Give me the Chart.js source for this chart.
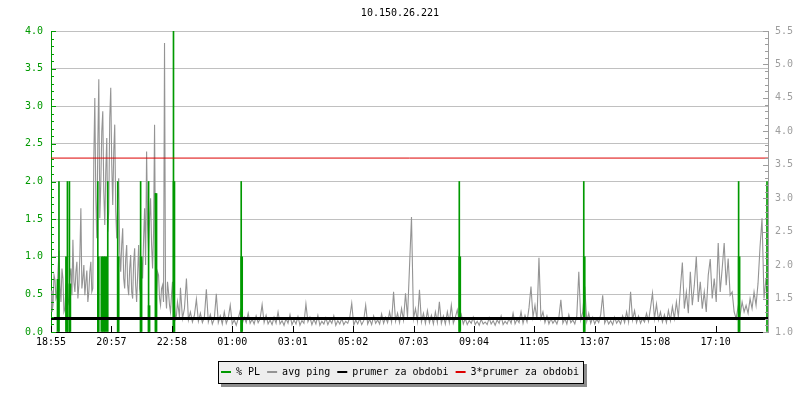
<!DOCTYPE html>
<html><head><meta charset="utf-8">
<script src="https://cdn.jsdelivr.net/npm/chart.js@4/dist/chart.umd.min.js"></script>
<style>html,body{margin:0;padding:0;background:#fff}#wrap{width:800px;height:400px}</style>
</head><body><div id="wrap"><canvas id="c" width="800" height="400"></canvas></div>
<script>
const chartTitle = '10.150.26.221';
const xTickLabels = ['18:55','20:57','22:58','01:00','03:01','05:02','07:03','09:04','11:05','13:07','15:08','17:10'];
const tickStepMinutes = 121.35;
const rangeMinutes = 1440;
// avg ping, first part sampled every 2 minutes (minutes 0..258)
const busyStepMinutes = 2;
const avgPingBusy = [
1.62,1.30,1.40,1.85,1.78,1.50,1.55,1.90,2.22,1.70,
1.45,1.95,1.80,1.30,1.35,1.70,1.75,1.40,1.50,1.85,
1.95,1.55,2.38,1.75,1.60,1.90,2.05,1.50,1.70,2.15,
2.85,1.65,1.80,2.00,1.55,1.75,1.92,1.45,1.60,1.90,
2.05,1.60,1.65,3.60,4.50,3.00,2.40,3.80,4.78,2.70,
3.20,4.00,4.30,3.10,2.60,3.40,3.90,2.50,2.80,4.20,
4.65,3.50,2.90,3.70,4.10,2.80,2.40,3.00,3.30,2.20,
1.90,2.30,2.55,1.80,1.65,2.10,2.30,1.70,1.55,1.95,
2.15,1.60,1.50,2.05,2.25,1.70,1.45,1.85,2.30,1.65,
1.55,2.10,1.80,2.40,2.85,2.00,3.70,2.60,2.20,2.70,
3.00,2.30,1.95,2.50,4.10,2.00,1.55,1.90,1.85,1.50,
1.40,1.65,1.70,1.45,5.32,1.60,1.35,1.75,1.60,1.40,
1.30,1.55,1.75,1.30,1.40,1.20,1.25,1.45,1.35,1.22];
// avg ping, second part sampled every 4 minutes (minutes 260..1440)
const restStartMinute = 260;
const restStepMinutes = 4;
const avgPingRest = [
1.66,1.20,1.35,1.80,1.18,
1.30,1.15,1.25,1.49,1.16,1.28,1.14,1.22,1.64,1.15,
1.26,1.12,1.20,1.57,1.14,1.24,1.12,1.30,1.13,1.21,
1.40,1.12,1.18,1.10,1.20,1.32,1.12,1.22,1.14,1.28,
1.13,1.19,1.12,1.24,1.14,1.20,1.41,1.14,1.25,1.12,
1.18,1.11,1.22,1.13,1.30,1.12,1.17,1.10,1.20,1.13,
1.26,1.11,1.18,1.12,1.23,1.10,1.17,1.13,1.42,1.15,
1.22,1.11,1.19,1.12,1.25,1.10,1.16,1.12,1.21,1.11,
1.18,1.13,1.24,1.10,1.17,1.12,1.20,1.11,1.16,1.13,
1.22,1.43,1.10,1.18,1.12,1.20,1.11,1.17,1.40,1.12,
1.19,1.11,1.24,1.13,1.18,1.12,1.27,1.13,1.22,1.14,
1.30,1.15,1.60,1.16,1.28,1.14,1.35,1.18,1.58,1.22,
1.97,2.72,1.20,1.35,1.16,1.63,1.15,1.28,1.13,1.32,
1.14,1.25,1.12,1.30,1.14,1.45,1.13,1.24,1.12,1.30,
1.14,1.40,1.13,1.22,1.33,1.15,1.26,1.12,1.20,1.11,
1.17,1.13,1.22,1.11,1.16,1.10,1.19,1.12,1.15,1.11,
1.21,1.12,1.17,1.10,1.18,1.13,1.24,1.11,1.16,1.12,
1.20,1.13,1.28,1.12,1.19,1.14,1.30,1.13,1.25,1.15,
1.36,1.68,1.22,1.40,1.18,2.11,1.20,1.30,1.14,1.24,
1.12,1.20,1.13,1.18,1.12,1.22,1.48,1.13,1.20,1.12,
1.26,1.14,1.18,1.12,1.24,1.90,1.18,1.30,1.68,1.16,
1.28,1.13,1.22,1.12,1.19,1.14,1.26,1.55,1.13,1.20,
1.12,1.17,1.11,1.22,1.13,1.18,1.12,1.24,1.14,1.30,
1.15,1.60,1.18,1.32,1.14,1.24,1.13,1.20,1.15,1.28,
1.16,1.36,1.58,1.20,1.42,1.18,1.30,1.15,1.26,1.14,
1.32,1.17,1.38,1.20,1.45,1.22,1.65,2.04,1.35,1.60,
1.28,1.90,1.40,1.70,2.13,1.45,1.75,1.35,1.60,1.30,
1.85,2.09,1.50,1.80,1.45,2.33,1.60,1.95,2.33,1.70,
2.10,1.55,1.60,1.30,1.20,1.38,1.25,1.45,1.30,1.40,
1.28,1.50,1.35,1.60,1.40,1.73,2.27,2.70,1.50,1.80,
1.40];
const plThinMinutes = [16, 33, 37, 94, 114, 134, 180, 196, 210, 246, 382, 820, 1070, 1381, 1438];
const plThinValues  = [2, 2, 2, 2, 2, 2, 2, 2, 1.84, 4, 2, 2, 2, 2, 2];
const plThickMinutes = [14, 31, 38, 95, 102, 106, 110, 135, 181, 197, 211, 247, 383, 821, 1071, 1382];
const plThickValues  = [0.7, 1, 0.64, 1, 1, 1, 1, 1, 1, 0.35, 1.84, 2, 1, 1, 1, 1];
const lineMinutes = [0, 1440];
const prumer = [1.2, 1.2];
const prumer3 = [3.6, 3.6];

const GREEN = 'rgb(0,153,0)', GRAY = 'rgb(148,148,148)', AXGRAY = 'rgb(158,158,158)', RED = 'rgb(221,0,0)', BLACK = '#000';
Chart.defaults.font.family = "'DejaVu Sans Mono', monospace";
Chart.defaults.font.size = 10;

const pingData = avgPingBusy.map((v, i) => ({x: i * busyStepMinutes, y: v}))
  .concat(avgPingRest.map((v, i) => ({x: restStartMinute + i * restStepMinutes, y: v})));
const thinData = plThinMinutes.map((m, i) => ({x: m, y: plThinValues[i]}));
const thickData = plThickMinutes.map((m, i) => ({x: m, y: plThickValues[i]}));
const prumerData = lineMinutes.map((m, i) => ({x: m, y: prumer[i]}));
const prumer3Data = lineMinutes.map((m, i) => ({x: m, y: prumer3[i]}));

const deco = {
  id: 'deco',
  beforeDraw(chart) {
    const lg = chart.legend;
    if (!lg || !lg.legendHitBoxes || !lg.legendHitBoxes.length) return;
    const hb = lg.legendHitBoxes;
    const left = Math.round(Math.min(...hb.map(h => h.left)) - 3);
    const right = Math.round(Math.max(...hb.map(h => h.left + h.width)) + 5);
    const cy = hb[0].top + hb[0].height / 2;
    const top = Math.round(cy - 11), bottom = Math.round(cy + 12);
    const c = chart.ctx;
    c.save();
    c.fillStyle = '#8c8c8c';
    c.fillRect(left + 3, top + 3, right - left, bottom - top);
    c.fillStyle = '#eeeeee';
    c.fillRect(left, top, right - left, bottom - top);
    c.strokeStyle = '#000';
    c.lineWidth = 1;
    c.strokeRect(left + 0.5, top + 0.5, right - left - 1, bottom - top - 1);
    c.restore();
  },
  afterDraw(chart) {
    const c = chart.ctx, a = chart.chartArea, s = chart.scales;
    c.save();
    c.lineWidth = 1;
    const seg = (x1, y1, x2, y2) => { c.beginPath(); c.moveTo(x1, y1); c.lineTo(x2, y2); c.stroke(); };
    c.strokeStyle = GREEN;
    for (let k = 0; k <= 40; k++) {
      const y = Math.round(s.yL.getPixelForValue(k / 10)) + 0.5;
      seg(a.left, y, a.left + (k % 5 === 0 ? 5 : 3), y);
    }
    c.strokeStyle = AXGRAY;
    for (let k = 0; k <= 45; k++) {
      const y = Math.round(s.yR.getPixelForValue(1 + k / 10)) + 0.5;
      seg(a.right - (k % 5 === 0 ? 5 : 3), y, a.right, y);
    }
    c.strokeStyle = BLACK;
    xTickLabels.forEach((l, i) => {
      const px = Math.round(s.x.getPixelForValue(i * tickStepMinutes)) + 0.5;
      seg(px, a.bottom, px, a.bottom - 6);
    });
    c.restore();
  }
};

new Chart(document.getElementById('c'), {
  type: 'line',
  data: {
    datasets: [
      {type: 'bar', label: '% PL', data: thinData, backgroundColor: GREEN, borderWidth: 0, barThickness: 1, grouped: false, yAxisID: 'yL', order: 2},
      {label: 'avg ping', data: pingData, borderColor: GRAY, backgroundColor: AXGRAY, borderWidth: 1.1, pointRadius: 0, tension: 0, yAxisID: 'yR', order: 3},
      {label: 'prumer za obdobi', data: prumerData, borderColor: BLACK, backgroundColor: BLACK, borderWidth: 3, pointRadius: 0, yAxisID: 'yR', order: 0},
      {label: '3*prumer za obdobi', data: prumer3Data, borderColor: RED, backgroundColor: RED, borderWidth: 1, pointRadius: 0, yAxisID: 'yR', order: 1},
      {type: 'bar', label: '% PL ', data: thickData, backgroundColor: GREEN, borderWidth: 0, barThickness: 2, grouped: false, yAxisID: 'yL', order: 2}
    ]
  },
  options: {
    responsive: false,
    animation: false,
    events: [],
    layout: {padding: {left: 0, right: 0, top: 0, bottom: 13}},
    scales: {
      x: {
        type: 'linear', min: 0, max: rangeMinutes, offset: false,
        grid: {display: false, drawTicks: false},
        border: {display: true, color: BLACK, width: 1},
        afterBuildTicks: sc => { sc.ticks = xTickLabels.map((l, i) => ({value: i * tickStepMinutes})); },
        ticks: {callback: (v, i) => xTickLabels[i], color: BLACK, maxRotation: 0, autoSkip: false, padding: 4, font: {size: 10}},
        afterFit: sc => { sc.height = 28; }
      },
      yL: {
        position: 'left', min: 0, max: 4,
        ticks: {stepSize: 0.5, callback: v => Number(v).toFixed(1), color: GREEN, padding: 8, font: {size: 10}},
        grid: {color: '#c0c0c0', drawTicks: false},
        border: {display: true, color: GREEN, width: 1},
        afterFit: sc => { sc.width = 51; }
      },
      yR: {
        position: 'right', min: 1, max: 5.5,
        ticks: {stepSize: 0.5, callback: v => Number(v).toFixed(1), color: AXGRAY, padding: 7, font: {size: 10}},
        grid: {display: false, drawTicks: false},
        border: {display: true, color: AXGRAY, width: 1},
        afterFit: sc => { sc.width = 32; }
      }
    },
    plugins: {
      title: {display: true, text: chartTitle, color: BLACK, font: {size: 10, weight: 'normal'}, padding: {top: 7, bottom: 12}},
      legend: {
        position: 'bottom',
        labels: {
          color: BLACK, boxWidth: 10, boxHeight: 2, padding: 7, font: {size: 10},
          generateLabels: chart => chart.data.datasets.slice(0, 4).map((d, i) => ({
            text: d.label, fillStyle: d.type === 'bar' ? d.backgroundColor : d.borderColor,
            strokeStyle: d.type === 'bar' ? d.backgroundColor : d.borderColor,
            lineWidth: 0, hidden: false, datasetIndex: i, fontColor: BLACK
          }))
        }
      },
      tooltip: {enabled: false}
    }
  },
  plugins: [deco]
});
</script>
</body></html>
